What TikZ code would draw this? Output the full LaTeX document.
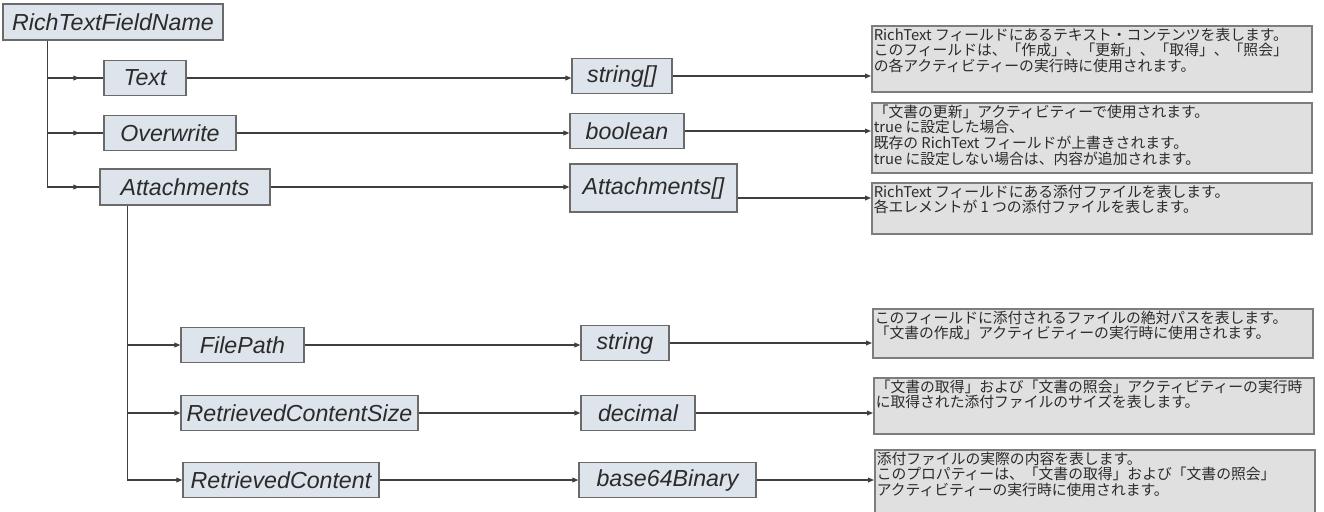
\documentclass[tikz,border=0pt]{standalone}
\usepackage{fontspec}
\usepackage{tikz}
\usetikzlibrary{arrows.meta,calc,decorations.markings}
\setmainfont{Liberation Sans}
\newfontfamily\jpfont{Noto Sans CJK JP}
\definecolor{rtfill}{HTML}{DDE4EB}
\definecolor{rtline}{HTML}{6A6A6A}
\definecolor{rtdesc}{HTML}{E0E0E0}
\definecolor{rtdescline}{HTML}{7D7D7D}
\definecolor{rtwire}{HTML}{3F3F3F}
\definecolor{rttext}{HTML}{2B2B2B}
\newcommand{\desclines}[2]{\parbox[t][#1][t]{218pt}{\raggedright #2}}
\tikzset{
  fieldbox/.style={
    draw=rtline,
    fill=rtfill,
    line width=.65pt,
    minimum height=17.5pt,
    inner sep=1pt,
    font=\fontsize{11.6}{13}\selectfont\itshape,
    text=rttext
  },
  typebox/.style={
    fieldbox
  },
  descbox/.style={
    draw=rtdescline,
    fill=rtdesc,
    line width=.75pt,
    anchor=north west,
    inner sep=1pt,
    font=\jpfont\fontsize{7.4}{7.8}\selectfont,
    text=rttext
  },
  trunk/.style={
    line width=.55pt,
    color=rtwire
  },
  wire/.style={
    trunk,
    -{Triangle[length=3pt,width=2.4pt]}
  },
  midwire/.style={
    trunk,
    postaction={decorate},
    decoration={markings,
      mark=at position 16pt with {\arrow{Triangle[length=3pt,width=2.4pt]}}}
  }
}

\begin{document}
\begin{tikzpicture}[x=.5pt, y=-.5pt]
  \useasboundingbox (0,0) rectangle (1324,511);

  \node[fieldbox, minimum width=110pt, minimum height=18pt] (root) at (113,22) {RichTextFieldName};
  \node[fieldbox, minimum width=41pt] (text) at (145,78) {Text};
  \node[fieldbox, minimum width=66pt] (overwrite) at (170,133) {Overwrite};
  \node[fieldbox, minimum width=85pt, minimum height=18pt] (attach) at (185,187) {Attachments};
  \node[fieldbox, minimum width=61.5pt] (filepath) at (242.5,345) {FilePath};
  \node[fieldbox, minimum width=118.5pt] (rcsize) at (299.5,413) {RetrievedContentSize};
  \node[fieldbox, minimum width=98pt] (rcontent) at (281,480) {RetrievedContent};

  \node[typebox, minimum width=50pt] (strarr) at (622,76) {string[]};
  \node[typebox, minimum width=57pt] (boolean) at (627,131) {boolean};
  \node[typebox, minimum width=83.5pt, minimum height=24pt] (attarr) at (653.5,188) {Attachments[]};
  \node[typebox, minimum width=44pt] (strtype) at (625,343) {string};
  \node[typebox, minimum width=57pt] (dectype) at (638,413) {decimal};
  \node[typebox, minimum width=88.5pt] (b64type) at (667.5,480) {base64Binary};

  \node[descbox] (textdesc) at (871,25)
    {\desclines{31pt}{RichText フィールドにあるテキスト・コンテンツを表します。\\
     このフィールドは、「作成」、「更新」、「取得」、「照会」\\
     の各アクティビティーの実行時に使用されます。}};
  \node[descbox] (overdesc) at (871,102)
    {\desclines{33pt}{「文書の更新」アクティビティーで使用されます。\\
     true に設定した場合、\\
     既存の RichText フィールドが上書きされます。\\
     true に設定しない場合は、内容が追加されます。}};
  \node[descbox] (attdesc) at (871,182)
    {\desclines{23.5pt}{RichText フィールドにある添付ファイルを表します。\\
     各エレメントが 1 つの添付ファイルを表します。}};
  \node[descbox] (pathdesc) at (872,308)
    {\desclines{22.5pt}{このフィールドに添付されるファイルの絶対パスを表します。\\
     「文書の作成」アクティビティーの実行時に使用されます。}};
  \node[descbox] (sizedesc) at (873,377)
    {\desclines{26pt}{「文書の取得」および「文書の照会」アクティビティーの実行時\\
     に取得された添付ファイルのサイズを表します。}};
  \node[descbox] (contdesc) at (874,449)
    {\desclines{33.5pt}{添付ファイルの実際の内容を表します。\\
     このプロパティーは、「文書の取得」および「文書の照会」\\
     アクティビティーの実行時に使用されます。}};

  \coordinate (rootdrop) at ($(root.south west)+(45,0)$);
  \draw[trunk] (rootdrop) -- (rootdrop |- attach.west);
  \draw[midwire] (rootdrop |- text.west) -- (text.west);
  \draw[midwire] (rootdrop |- overwrite.west) -- (overwrite.west);
  \draw[midwire] (rootdrop |- attach.west) -- (attach.west);

  \coordinate (attdrop) at ($(attach.south west)+(28,0)$);
  \draw[trunk] (attdrop) -- (attdrop |- rcontent.west);
  \draw[wire] (attdrop |- filepath.west) -- (filepath.west);
  \draw[wire] (attdrop |- rcsize.west) -- (rcsize.west);
  \draw[wire] (attdrop |- rcontent.west) -- (rcontent.west);

  \draw[wire] (text.east) -- (text.east -| strarr.west);
  \draw[wire] (overwrite.east) -- (overwrite.east -| boolean.west);
  \draw[wire] (attach.east) -- (attach.east -| attarr.west);
  \draw[wire] (filepath.east) -- (filepath.east -| strtype.west);
  \draw[wire] (rcsize.east) -- (rcsize.east -| dectype.west);
  \draw[wire] (rcontent.east) -- (rcontent.east -| b64type.west);

  \draw[wire] (strarr.east) -- (strarr.east -| textdesc.west);
  \draw[wire] (boolean.east) -- (boolean.east -| overdesc.west);
  \draw[wire] ([yshift=-5pt]attarr.east) -- ([yshift=-5pt]attarr.east -| attdesc.west);
  \draw[wire] (strtype.east) -- (strtype.east -| pathdesc.west);
  \draw[wire] (dectype.east) -- (dectype.east -| sizedesc.west);
  \draw[wire] (b64type.east) -- (b64type.east -| contdesc.west);
\end{tikzpicture}
\end{document}
